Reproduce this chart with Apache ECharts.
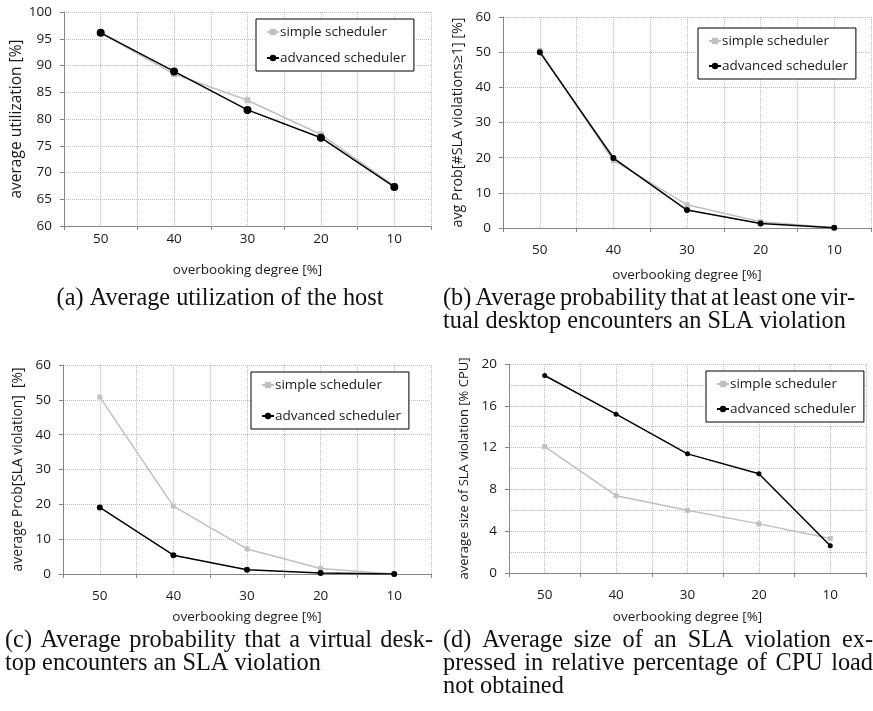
<!DOCTYPE html>
<html>
<head>
<meta charset="utf-8">
<script src="https://cdn.jsdelivr.net/npm/echarts@6/dist/echarts.min.js"></script>
<style>
  html, body { margin: 0; padding: 0; background: #fff; }
  #chart { width: 873px; height: 711px; }
</style>
</head>
<body>
<div id="chart"></div>
<script>
// overbooking degree [%] on the x axis of every panel
const categories = ['50', '40', '30', '20', '10'];

// (a) average utilization of the host [%]
const utilSimple = [96.1, 88.4, 83.5, 77.1, 67.5];
const utilAdvanced = [96.1, 88.9, 81.7, 76.5, 67.3];

// (b) avg Prob[#SLA violations >= 1] [%]
const anyViolSimple = [50.5, 19.2, 6.6, 1.8, 0.1];
const anyViolAdvanced = [50.0, 19.9, 5.1, 1.3, 0.1];

// (c) average Prob[SLA violation] [%]
const violSimple = [50.8, 19.5, 7.2, 1.6, 0.0];
const violAdvanced = [19.1, 5.4, 1.2, 0.3, 0.0];

// (d) average size of SLA violation [% CPU]
const sizeSimple = [12.1, 7.4, 6.0, 4.7, 3.3];
const sizeAdvanced = [18.9, 15.2, 11.4, 9.5, 2.6];

const seriesNames = ['simple scheduler', 'advanced scheduler'];

// layout of the four panels (pixel boxes of the plot areas)
const panels = [
  { left: 64, top: 12, width: 367, height: 214, min: 60, max: 100, step: 5, minor: 0,
    yName: 'average utilization [%]', yNameSize: 15.5, yNameGap: 38, xLabelMargin: 6, xNameGap: 37,
    simple: utilSimple, advanced: utilAdvanced, dot: 8, sq: 6,
    legend: { left: 256, top: 19, gap: 12 } },
  { left: 503, top: 17, width: 368, height: 211, min: 0, max: 60, step: 10, minor: 0,
    yName: 'avg Prob[#SLA violations\u22651] [%]', yNameSize: 14.3, yNameGap: 38, xLabelMargin: 15, xNameGap: 40,
    simple: anyViolSimple, advanced: anyViolAdvanced, dot: 6, sq: 5,
    legend: { left: 698, top: 28, gap: 11 } },
  { left: 63, top: 365, width: 368, height: 209, min: 0, max: 60, step: 10, minor: 0,
    yName: 'average Prob[SLA violation]  [%]', yNameSize: 13.8, yNameGap: 38, xLabelMargin: 15, xNameGap: 36,
    simple: violSimple, advanced: violAdvanced, dot: 6, sq: 5,
    legend: { left: 251, top: 372, gap: 17 } },
  { left: 509, top: 364, width: 357, height: 209, min: 0, max: 20, step: 4, minor: 2,
    yName: 'average size of SLA violation [% CPU]', yNameSize: 13, yNameGap: 38, xLabelMargin: 15, xNameGap: 37,
    simple: sizeSimple, advanced: sizeAdvanced, dot: 5, sq: 5,
    legend: { left: 706, top: 371, gap: 11 } }
];

const sansFont = '"Open Sans", "Noto Sans", sans-serif';
const serifFont = '"Liberation Serif", "DejaVu Serif", serif';
const gridColor = '#bfbfbf';
const axisColor = '#868686';
const textColor = '#1a1a1a';

const chart = echarts.init(document.getElementById('chart'), null, { renderer: 'canvas' });

const grid = [], xAxis = [], yAxis = [], series = [], legend = [];

panels.forEach((p, i) => {
  grid.push({ left: p.left, top: p.top, width: p.width, height: p.height, outerBoundsMode: 'none' });

  // category axis carrying the data
  xAxis.push({
    type: 'category', gridIndex: i, data: categories, boundaryGap: true,
    name: 'overbooking degree [%]', nameLocation: 'middle', nameGap: p.xNameGap,
    nameTextStyle: { fontFamily: sansFont, fontSize: 13.5, color: textColor },
    axisLine: { lineStyle: { color: axisColor, width: 1 } },
    axisTick: { show: true, length: 4, lineStyle: { color: axisColor } },
    axisLabel: { margin: p.xLabelMargin, fontFamily: sansFont, fontSize: 13.5, color: textColor },
    splitLine: { show: false }
  });
  // helper axis: dotted vertical grid every half category
  xAxis.push({
    type: 'value', gridIndex: i, min: 0, max: 10, interval: 1, position: 'top',
    axisLine: { show: false }, axisTick: { show: false }, axisLabel: { show: false },
    splitLine: { show: true, lineStyle: { color: gridColor, type: [1, 1], width: 1 } }
  });

  yAxis.push({
    type: 'value', gridIndex: i, min: p.min, max: p.max, interval: p.step,
    name: p.yName, nameLocation: 'middle', nameGap: p.yNameGap, nameRotate: 90,
    nameTextStyle: { fontFamily: sansFont, fontSize: p.yNameSize, color: textColor },
    axisLine: { show: true, lineStyle: { color: axisColor, width: 1 } },
    axisTick: { show: true, length: 4, lineStyle: { color: axisColor } },
    axisLabel: { margin: 12, fontFamily: sansFont, fontSize: 13.5, color: textColor },
    splitLine: { show: true, lineStyle: { color: gridColor, type: [1, 1], width: 1 } },
    minorTick: { show: false, splitNumber: p.minor || 5 },
    minorSplitLine: { show: !!p.minor, lineStyle: { color: gridColor, type: [1, 1], width: 1 } }
  });

  series.push({
    name: seriesNames[0], type: 'line', xAxisIndex: i * 2, yAxisIndex: i,
    data: p.simple, symbol: 'rect', symbolSize: p.sq, showSymbol: true,
    itemStyle: { color: '#c0c0c0' }, lineStyle: { color: '#c0c0c0', width: 1.5 },
    z: 2
  });
  series.push({
    name: seriesNames[1], type: 'line', xAxisIndex: i * 2, yAxisIndex: i,
    data: p.advanced, symbol: 'circle', symbolSize: p.dot, showSymbol: true,
    itemStyle: { color: '#000' }, lineStyle: { color: '#000', width: 1.5 },
    z: 3
  });

  legend.push({
    data: seriesNames, orient: 'vertical',
    left: p.legend.left, top: p.legend.top,
    itemWidth: 12, itemHeight: 8, itemGap: p.legend.gap,
    padding: [6, 8, 6, 10],
    borderColor: '#000', borderWidth: 1, backgroundColor: '#fff',
    selectedMode: false,
    textStyle: { fontFamily: sansFont, fontSize: 13.5, color: textColor, padding: [0, 0, 0, -4] }
  });
});

// captions below the panels (LaTeX style, justified lines)
const measureCtx = document.createElement('canvas').getContext('2d');
function textWidth(str, size) {
  measureCtx.font = size + 'px ' + serifFont;
  return measureCtx.measureText(str).width;
}
// pick the largest size at which every justified line still fits its column
const fitLines = [
  ['(a) Average utilization of the host', 337],
  ['(b) Average probability that at least one vir-', 412],
  ['(c) Average probability that a virtual desk-', 428],
  ['(d) Average size of an SLA violation ex-', 430],
  ['pressed in relative percentage of CPU load', 430]
];
const capSize = Math.min(...fitLines.map(([s, w]) => {
  const spaces = s.split(' ').length - 1;
  return Math.floor((w - spaces * 4) / textWidth(s.replace(/ /g, ''), 100) * 1000) / 10;
}));

const graphic = [];
function captionLine(str, x0, y, x1, align) {
  const font = capSize + 'px ' + serifFont;
  if (!x1) {
    graphic.push({ type: 'text', x: x0, y: y,
      style: { text: str, font: font, fill: '#111', verticalAlign: 'middle', align: align || 'left' } });
    return;
  }
  const words = str.split(' ');
  const widths = words.map(w => textWidth(w, capSize));
  const total = widths.reduce((a, b) => a + b, 0);
  const gap = (x1 - x0 - total) / (words.length - 1);
  let x = x0;
  words.forEach((w, k) => {
    graphic.push({ type: 'text', x: x, y: y,
      style: { text: w, font: font, fill: '#111', verticalAlign: 'middle' } });
    x += widths[k] + gap;
  });
}

captionLine('(a) Average utilization of the host', 220, 299, null, 'center');
captionLine('(b) Average probability that at least one vir-', 443, 299, 855);
captionLine('tual desktop encounters an SLA violation', 443, 322);
captionLine('(c) Average probability that a virtual desk-', 5, 641, 433);
captionLine('top encounters an SLA violation', 5, 664);
captionLine('(d) Average size of an SLA violation ex-', 443, 641, 873);
captionLine('pressed in relative percentage of CPU load', 443, 664, 873);
captionLine('not obtained', 443, 687);

chart.setOption({
  animation: false,
  backgroundColor: '#fff',
  grid: grid,
  xAxis: xAxis,
  yAxis: yAxis,
  legend: legend,
  series: series,
  graphic: graphic
});
</script>
</body>
</html>
